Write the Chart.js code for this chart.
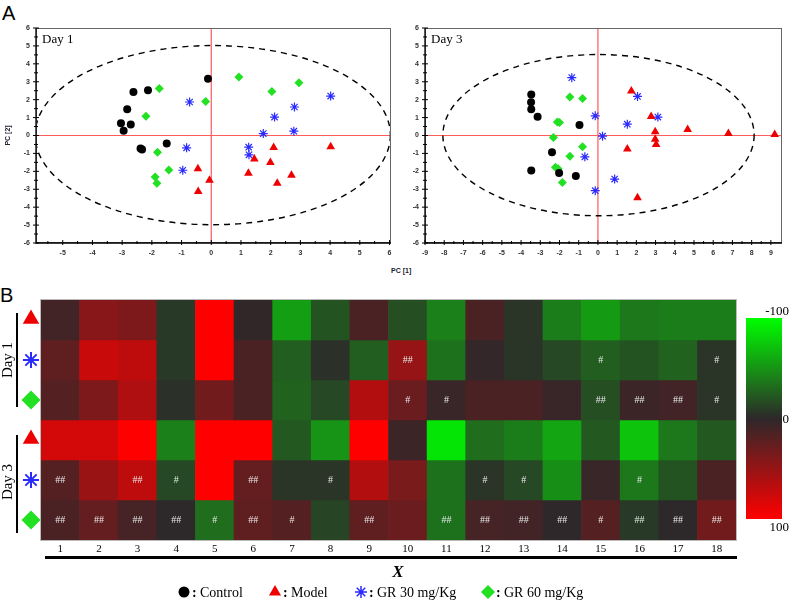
<!DOCTYPE html>
<html>
<head>
<meta charset="utf-8">
<script src="https://cdn.jsdelivr.net/npm/chart.js@4.4.0/dist/chart.umd.min.js"></script>
<style>
   body { margin: 0; background: #fff; width: 792px; height: 602px; position: relative; overflow: hidden; }
   canvas { position: absolute; }
   .panel { position: absolute; font: 20px 'Liberation Sans', Arial, sans-serif; line-height: 1; color: #000; }
   .pc1 { position: absolute; font: bold 7px 'Liberation Sans', Arial, sans-serif; color: #223; }
</style>
</head>
<body>
<div class="panel" style="left:2px;top:3px">A</div>
<div class="panel" style="left:0;top:285px">B</div>
<div class="pc1" style="left:391px;top:267px">PC [1]</div>
<canvas id="day1" width="400" height="290" style="left:0;top:0"></canvas>
<canvas id="day3" width="392" height="290" style="left:400px;top:0"></canvas>
<canvas id="heat" width="792" height="317" style="left:0;top:285px"></canvas>
<script>
// ---- PCA score plots (x = PC[1], y = PC[2]) ----
const control1 = [[-0.11, 3.17], [-2.62, 2.43], [-2.13, 2.52], [-2.83, 1.46], [-3.04, 0.69], [-2.71, 0.62], [-2.95, 0.26], [-2.38, -0.72], [-2.33, -0.78], [-1.50, -0.45]];
const model1 = [[-0.45, -1.85], [-0.06, -2.50], [-0.44, -3.13], [2.10, -0.67], [4.02, -0.63], [1.45, -1.31], [1.99, -1.51], [1.25, -2.11], [2.22, -2.67], [2.70, -2.22]];
const gr30_1 = [[4.02, 2.20], [-0.73, 1.87], [2.80, 1.59], [2.13, 1.03], [1.75, 0.11], [2.78, 0.24], [-0.83, -0.69], [1.26, -0.65], [1.27, -1.08], [-0.96, -1.94]];
const gr60_1 = [[0.93, 3.26], [2.95, 2.95], [2.04, 2.46], [-1.75, 2.63], [-0.19, 1.90], [-2.20, 1.08], [-1.81, -0.93], [-1.43, -1.92], [-1.89, -2.31], [-1.83, -2.67]];

const control3 = [[-3.47, 2.29], [-3.48, 1.85], [-3.47, 1.46], [-3.14, 1.04], [-0.96, 0.58], [-2.39, -0.93], [-3.47, -1.96], [-2.02, -2.09], [-1.15, -2.26]];
const model3 = [[1.74, 2.48], [2.77, 1.06], [2.98, 0.21], [2.98, -0.21], [3.03, -0.50], [4.67, 0.34], [6.79, 0.11], [9.20, 0.06], [1.53, -0.76], [2.06, -3.47]];
const gr30_3 = [[-1.36, 3.23], [2.06, 2.18], [-0.14, 1.10], [1.53, 0.63], [3.12, 1.03], [0.24, -0.04], [-0.68, -1.19], [0.87, -2.43], [-0.14, -3.08]];
const gr60_3 = [[-1.46, 2.15], [-0.80, 2.07], [-2.11, 0.75], [-2.00, 0.73], [-2.32, -0.11], [-0.80, -0.63], [-1.46, -1.16], [-2.21, -1.77], [-2.07, -1.85], [-1.85, -2.63]];

const day1XTicks = [-5, -4, -3, -2, -1, 0, 1, 2, 3, 4, 5, 6];
const day3XTicks = [-9, -8, -7, -6, -5, -4, -3, -2, -1, 0, 1, 2, 3, 4, 5, 6, 7, 8, 9];
const pcYTicks = [-6, -5, -4, -3, -2, -1, 0, 1, 2, 3, 4, 5, 6];

// ---- heatmap (rows top to bottom, columns 1..18) ----
const columns = ['1', '2', '3', '4', '5', '6', '7', '8', '9', '10', '11', '12', '13', '14', '15', '16', '17', '18'];
const day1Model = [10, 43, 38, -8, 100, 2, -55, -20, 14, -18, -41, 14, -6, -39, -53, -37, -39, -39];
const day1GR30 = [24, 74, 69, -8, 100, 14, -25, -4, -25, 50, -34, 3, -6, -15, -25, -20, -27, -6];
const day1GR60 = [19, 38, 62, -4, 33, 14, -27, -15, 64, 29, 5, 14, 14, 5, -18, 7, 10, -6];
const day3Model = [79, 79, 100, -41, 100, 100, -23, -50, 100, 7, -88, -32, -39, -58, -23, -72, -37, -23];
const day3GR30 = [19, 52, 69, -15, 100, 26, -6, -6, 64, 36, -34, -6, -15, -48, 5, -37, -20, 14];
const day3GR60 = [14, 26, 12, 0, -32, 24, 19, -13, 24, 29, -34, 12, 10, 1, 19, -8, 0, 33];

const day1GR30Marks = ['', '', '', '', '', '', '', '', '', '##', '', '', '', '', '#', '', '', '#'];
const day1GR60Marks = ['', '', '', '', '', '', '', '', '', '#', '#', '', '', '', '##', '##', '##', '#'];
const day3GR30Marks = ['##', '', '##', '#', '', '##', '', '#', '', '', '', '#', '#', '', '', '#', '', ''];
const day3GR60Marks = ['##', '##', '##', '##', '#', '##', '#', '', '##', '', '##', '##', '##', '##', '#', '##', '##', '##'];
const noMarks = columns.map(() => '');

const heatRows = [day1Model, day1GR30, day1GR60, day3Model, day3GR30, day3GR60];
const heatMarks = [noMarks, day1GR30Marks, day1GR60Marks, noMarks, day3GR30Marks, day3GR60Marks];
const scaleLabels = ['-100', '0', '100'];

const colorStops = [[-100, [0, 255, 0]], [0, [45, 40, 42]], [100, [255, 0, 0]]];

const SERIF = "'Liberation Serif', 'Times New Roman', serif";
const SANS = "'Liberation Sans', Arial, sans-serif";

const groupStyles = {
   control: { pointStyle: 'circle', radius: 4, backgroundColor: '#000', borderColor: '#000', borderWidth: 0 },
   model: { pointStyle: 'triangle', radius: 5, backgroundColor: '#ee0000', borderColor: '#ee0000', borderWidth: 0 },
   gr30: { pointStyle: 'star', radius: 4.5, backgroundColor: '#2a2aff', borderColor: '#2a2aff', borderWidth: 1.2 },
   gr60: { pointStyle: 'rectRot', radius: 4.5, backgroundColor: '#22e022', borderColor: '#22e022', borderWidth: 0 },
};

function heatColor(v) {
   const [a, b] = v < 0 ? [colorStops[0], colorStops[1]] : [colorStops[1], colorStops[2]];
   const t = (v - a[0]) / (b[0] - a[0]);
   const c = a[1].map((k, i) => Math.round(k + (b[1][i] - k) * t));
   return `rgb(${c.join(',')})`;
}

function marker(ctx, style, x, y, radius, borderWidth) {
   ctx.save();
   ctx.fillStyle = style.backgroundColor;
   ctx.strokeStyle = style.borderColor;
   ctx.lineWidth = borderWidth;
   Chart.helpers.drawPoint(ctx, { pointStyle: style.pointStyle, radius: radius, borderWidth: borderWidth, rotation: 0 }, x, y);
   ctx.restore();
}

const pcaDecor = {
   id: 'pcaDecor',
   beforeDatasetsDraw(chart, args, opts) {
      const { ctx, chartArea: a, scales: { x, y } } = chart;
      ctx.save();
      ctx.beginPath();
      ctx.rect(a.left, a.top, a.right - a.left, a.bottom - a.top);
      ctx.clip();

      // zero lines
      const x0 = x.getPixelForValue(0), y0 = y.getPixelForValue(0);
      ctx.strokeStyle = '#ff5c5c';
      ctx.lineWidth = 1.2;
      ctx.beginPath();
      ctx.moveTo(x0, a.top); ctx.lineTo(x0, a.bottom);
      ctx.moveTo(a.left, y0); ctx.lineTo(a.right, y0);
      ctx.stroke();

      // confidence ellipse
      const e = opts.ellipse;
      const cx = x.getPixelForValue(e.cx), cy = y.getPixelForValue(e.cy);
      const rx = x.getPixelForValue(e.cx + e.rx) - cx;
      const ry = cy - y.getPixelForValue(e.cy + e.ry);
      ctx.setLineDash([6, 5]);
      ctx.strokeStyle = '#000';
      ctx.lineWidth = 1.4;
      ctx.beginPath();
      ctx.ellipse(cx, cy, rx, ry, 0, 0, Math.PI * 2);
      ctx.stroke();
      ctx.restore();

      // frame
      ctx.save();
      ctx.strokeStyle = '#666';
      ctx.lineWidth = 1;
      ctx.strokeRect(a.left + 0.5, a.top + 0.5, a.right - a.left - 1, a.bottom - a.top - 1);
      ctx.strokeStyle = '#000';
      ctx.lineWidth = 1.3;
      ctx.beginPath();
      ctx.moveTo(a.left, a.top); ctx.lineTo(a.left, a.bottom); ctx.lineTo(a.right, a.bottom);
      ctx.stroke();

      // tick marks (major + half)
      ctx.lineWidth = 1;
      ctx.beginPath();
      x.ticks.forEach(t => {
         const px = x.getPixelForValue(t.value);
         ctx.moveTo(px, a.bottom - 3); ctx.lineTo(px, a.bottom + 2);
         const h = t.value - 0.5;
         if (h > x.min) {
            const ph = x.getPixelForValue(h);
            ctx.moveTo(ph, a.bottom - 2); ctx.lineTo(ph, a.bottom + 1);
         }
      });
      y.ticks.forEach(t => {
         const py = y.getPixelForValue(t.value);
         ctx.moveTo(a.left - 3, py); ctx.lineTo(a.left + 3, py);
         const h = t.value + 0.5;
         if (h < y.max) {
            const ph = y.getPixelForValue(h);
            ctx.moveTo(a.left - 2, ph); ctx.lineTo(a.left + 2, ph);
         }
      });
      ctx.stroke();

      // titles
      ctx.fillStyle = '#000';
      ctx.font = `13px ${SERIF}`;
      ctx.textBaseline = 'alphabetic';
      ctx.textAlign = 'left';
      ctx.fillText(opts.title, a.left + 6, a.top + 15);
      if (opts.yTitle) {
         ctx.translate(8, (a.top + a.bottom) / 2);
         ctx.rotate(-Math.PI / 2);
         ctx.textAlign = 'center';
         ctx.textBaseline = 'middle';
         ctx.fillStyle = '#223';
         ctx.font = `bold 7px ${SANS}`;
         ctx.fillText(opts.yTitle, 0, 0);
      }
      ctx.restore();
   }
};

function pcaChart(canvasId, title, groups, xRange, xTicks, ellipse, yAxisWidth, padRight, yTitle) {
   const tickFont = { family: SANS, size: 7, weight: 'bold' };
   return new Chart(document.getElementById(canvasId), {
      type: 'scatter',
      data: {
         datasets: [
            { label: 'Control', data: groups[0], ...groupStyles.control },
            { label: 'Model', data: groups[1], ...groupStyles.model },
            { label: 'GR 30 mg/Kg', data: groups[2], ...groupStyles.gr30 },
            { label: 'GR 60 mg/Kg', data: groups[3], ...groupStyles.gr60 },
         ]
      },
      options: {
         responsive: false,
         animation: false,
         events: [],
         layout: { padding: { left: 0, right: padRight, top: 28, bottom: 0 } },
         plugins: {
            legend: { display: false },
            tooltip: { enabled: false },
            pcaDecor: { title: title, ellipse: ellipse, yTitle: yTitle },
         },
         scales: {
            x: {
               type: 'linear',
               min: xRange[0],
               max: xRange[1],
               grid: { display: false, drawTicks: false },
               border: { display: false },
               afterBuildTicks: s => { s.ticks = xTicks.map(v => ({ value: v })); },
               afterFit: s => { s.height = 47; },
               ticks: { font: tickFont, color: '#333', padding: 6, maxRotation: 0, autoSkip: false },
            },
            y: {
               type: 'linear',
               min: -6,
               max: 6,
               grid: { display: false, drawTicks: false },
               border: { display: false },
               afterBuildTicks: s => { s.ticks = pcYTicks.map(v => ({ value: v })); },
               afterFit: s => { s.width = yAxisWidth; },
               ticks: { font: tickFont, color: '#333', padding: 6, autoSkip: false },
            }
         }
      },
      plugins: [pcaDecor]
   });
}

pcaChart('day1', 'Day 1', [control1, model1, gr30_1, gr60_1], [-5.9, 6.05], day1XTicks,
   { cx: 0.05, cy: 0.02, rx: 5.98, ry: 5.0 }, 36, 9, 'PC [2]');
pcaChart('day3', 'Day 3', [control3, model3, gr30_3, gr60_3], [-9, 9.58], day3XTicks,
   { cx: 0.03, cy: 0.02, rx: 8.1, ry: 4.5 }, 25, 10, null);

// ---- heatmap ----
const heatDecor = {
   id: 'heatDecor',
   afterDatasetsDraw(chart) {
      const { ctx, chartArea: a, scales: { y } } = chart;
      ctx.save();

      // border
      ctx.strokeStyle = '#bbb';
      ctx.lineWidth = 1;
      ctx.strokeRect(a.left - 0.5, a.top - 0.5, a.right - a.left + 1, a.bottom - a.top + 1);

      // significance marks
      ctx.fillStyle = '#e6e6e6';
      ctx.font = `10px ${SERIF}`;
      ctx.textAlign = 'center';
      ctx.textBaseline = 'middle';
      heatMarks.forEach((marks, r) => {
         const meta = chart.getDatasetMeta(r);
         marks.forEach((m, c) => {
            if (!m) return;
            const bar = meta.data[c];
            ctx.fillText(m, bar.x, (bar.y + bar.base) / 2);
         });
      });

      // row labels: day brackets and group markers
      const rowMid = r => y.getPixelForValue(r + 0.5);
      ctx.strokeStyle = '#000';
      ctx.lineWidth = 2;
      ctx.beginPath();
      ctx.moveTo(17, y.getPixelForValue(0) + 13); ctx.lineTo(17, y.getPixelForValue(3) - 13);
      ctx.moveTo(17, y.getPixelForValue(3) + 15); ctx.lineTo(17, y.getPixelForValue(6) - 7);
      ctx.stroke();
      ctx.fillStyle = '#000';
      ctx.font = `15px ${SERIF}`;
      [['Day 1', rowMid(1)], ['Day 3', rowMid(4) + 2]].forEach(([t, py]) => {
         ctx.save();
         ctx.translate(8, py);
         ctx.rotate(-Math.PI / 2);
         ctx.fillText(t, 0, 0);
         ctx.restore();
      });
      const rowGroups = [groupStyles.model, groupStyles.gr30, groupStyles.gr60];
      for (let r = 0; r < 6; r++) {
         const g = rowGroups[r % 3];
         if (g === groupStyles.model) marker(ctx, g, 31, rowMid(r) - 1, 9.5, 0);
         else if (g === groupStyles.gr30) marker(ctx, g, 31, rowMid(r), 8, 2);
         else marker(ctx, g, 31, rowMid(r), 9.5, 0);
      }

      // colour bar
      const cbL = 746, cbR = 782, cbT = 33, cbB = 234;
      const grad = ctx.createLinearGradient(0, cbT, 0, cbB);
      colorStops.forEach(([v, c]) => grad.addColorStop((v + 100) / 200, `rgb(${c.join(',')})`));
      ctx.fillStyle = grad;
      ctx.fillRect(cbL, cbT, cbR - cbL, cbB - cbT);
      ctx.fillStyle = '#000';
      ctx.font = `13px ${SERIF}`;
      ctx.textAlign = 'right';
      ctx.textBaseline = 'middle';
      ctx.fillText(scaleLabels[0], 789, cbT - 6);
      ctx.fillText(scaleLabels[1], 789, (cbT + cbB) / 2 + 1);
      ctx.fillText(scaleLabels[2], 789, cbB + 9);

      // axis rule and title
      ctx.fillStyle = '#000';
      ctx.fillRect(45, 271, 692, 3);
      ctx.textAlign = 'center';
      ctx.font = `italic bold 17px ${SERIF}`;
      ctx.fillText('X', 398, 288);

      // legend
      const legend = [
         [groupStyles.control, 'Control', 184, 5.5, 0],
         [groupStyles.model, 'Model', 275, 7, 0],
         [groupStyles.gr30, 'GR 30 mg/Kg', 361, 6, 1.5],
         [groupStyles.gr60, 'GR 60 mg/Kg', 488, 7, 0],
      ];
      ctx.textAlign = 'left';
      legend.forEach(([g, label, mx, rad, bw]) => {
         marker(ctx, g, mx, 307, rad, bw);
         ctx.fillStyle = '#000';
         ctx.font = `bold 14px ${SERIF}`;
         ctx.fillText(':', mx + 8, 308);
         ctx.font = `14px ${SERIF}`;
         ctx.fillText(label, mx + 16, 308);
      });
      ctx.restore();
   }
};

new Chart(document.getElementById('heat'), {
   type: 'bar',
   data: {
      labels: columns,
      datasets: heatRows.map((vals, r) => ({
         label: 'row ' + (r + 1),
         data: vals.map(() => [r, r + 1]),
         backgroundColor: vals.map(heatColor),
         borderWidth: 0,
         barPercentage: 1,
         categoryPercentage: 1,
         grouped: false,
      }))
   },
   options: {
      responsive: false,
      animation: false,
      events: [],
      layout: { padding: { left: 41, right: 56, top: 15, bottom: 0 } },
      plugins: { legend: { display: false }, tooltip: { enabled: false } },
      scales: {
         x: {
            type: 'category',
            grid: { display: false, drawTicks: false },
            border: { display: false },
            afterFit: s => { s.height = 62; },
            ticks: { font: { family: SERIF, size: 11 }, color: '#000', padding: 3, maxRotation: 0, autoSkip: false },
         },
         y: { type: 'linear', min: 0, max: 6, reverse: true, display: false }
      }
   },
   plugins: [heatDecor]
});
</script>
</body>
</html>
